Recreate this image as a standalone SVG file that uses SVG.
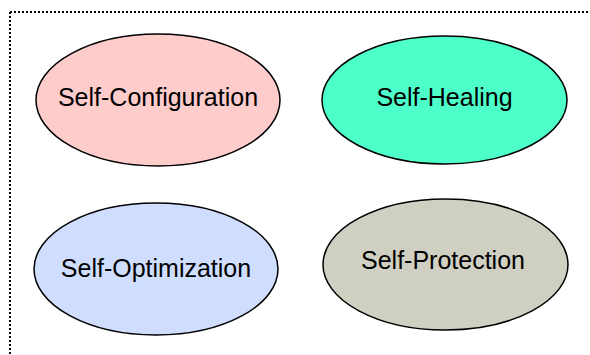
<svg xmlns="http://www.w3.org/2000/svg" width="590" height="355" viewBox="0 0 590 355">
  <style>
    .frame { fill: none; stroke: #000; stroke-width: 2; stroke-dasharray: 2 2; }
    .node ellipse { stroke: #000; stroke-width: 1.5; }
    .node text { font-family: "Liberation Sans", Arial, sans-serif; font-size: 25px; fill: #000; text-anchor: middle; }
  </style>
  <rect width="590" height="355" fill="#fff"/>
  <!-- dotted frame: top and left edges -->
  <path class="frame" d="M10 12 H590 M10 12 V355"/>
  <g id="connectors"/>
  <g id="self-configuration" class="node">
    <ellipse cx="158" cy="100" rx="122" ry="66" fill="#FFCCCC"/>
    <text x="158" y="106">Self-Configuration</text>
  </g>
  <g id="self-healing" class="node">
    <ellipse cx="444.5" cy="100" rx="122.5" ry="64" fill="#4DFFC9"/>
    <text x="444.5" y="106">Self-Healing</text>
  </g>
  <g id="self-optimization" class="node">
    <ellipse cx="156" cy="269" rx="122" ry="66" fill="#CFDDFF"/>
    <text x="156" y="277">Self-Optimization</text>
  </g>
  <g id="self-protection" class="node">
    <ellipse cx="445.5" cy="264.5" rx="122.5" ry="65.5" fill="#CFCFC2"/>
    <text x="443" y="269">Self-Protection</text>
  </g>
</svg>
